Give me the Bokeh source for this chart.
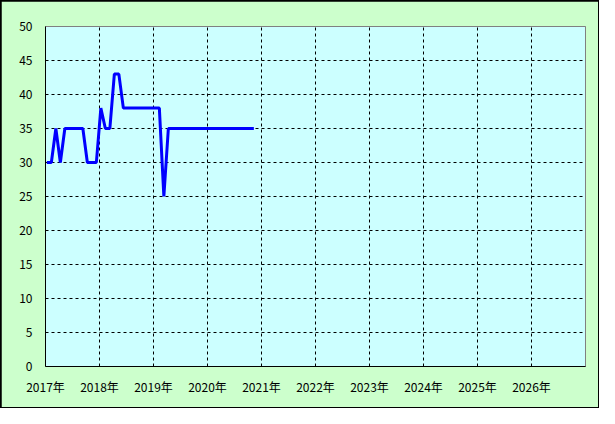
from bokeh.plotting import figure
from bokeh.models import Range1d, FixedTicker
from bokeh.layouts import column
from bokeh.embed import file_html
from bokeh.resources import INLINE

# Monthly values, Jan 2017 .. Nov 2020
start_year = 2017
values = [30, 30, 35, 30, 35, 35, 35, 35, 35, 30, 30, 30,
          38, 35, 35, 43, 43, 38, 38, 38, 38, 38, 38, 38,
          38, 38, 25, 35, 35, 35, 35, 35, 35, 35, 35, 35,
          35, 35, 35, 35, 35, 35, 35, 35, 35, 35, 35]
day_offset = 0.3  # points sit ~10th of each month (fraction of a month)
year_ticks = [2017, 2018, 2019, 2020, 2021, 2022, 2023, 2024, 2025, 2026]
year_labels = {y: f"{y}年" for y in year_ticks}
y_ticks = [0, 5, 10, 15, 20, 25, 30, 35, 40, 45, 50]

xs = [start_year + (i + day_offset) / 12.0 for i in range(len(values))]

FONT = "Noto Sans CJK JP"
W, H = 597, 406

p = figure(width=W, height=H, output_backend="svg", toolbar_location=None,
           x_range=Range1d(2017, 2027), y_range=Range1d(0, 50),
           min_border_left=44, min_border_right=13, min_border_top=25, min_border_bottom=41)

p.border_fill_color = "#ccffcc"
p.background_fill_color = "#ccffff"
p.outline_line_color = "#808080"
p.outline_line_width = 1

p.line(xs, values, line_color="#0000ff", line_width=3)

for ax in (p.xaxis[0], p.yaxis[0]):
    ax.axis_line_color = "black"
    ax.axis_line_width = 1
    ax.major_tick_out = 0
    ax.major_tick_in = 0
    ax.minor_tick_out = 0
    ax.minor_tick_in = 0
    ax.major_label_text_font = FONT
    ax.major_label_text_font_size = "12px"
    ax.major_label_text_color = "black"

p.xaxis.ticker = FixedTicker(ticks=year_ticks)
p.xaxis.major_label_overrides = year_labels
p.xaxis.major_label_standoff = 11
p.yaxis.ticker = FixedTicker(ticks=y_ticks)
p.yaxis.major_label_standoff = 13

p.xgrid.ticker = FixedTicker(ticks=year_ticks[1:])
p.ygrid.ticker = FixedTicker(ticks=y_ticks[1:-1])
for g in (p.xgrid[0], p.ygrid[0]):
    g.grid_line_color = "black"
    g.grid_line_dash = "3 3"
    g.grid_line_width = 1

layout = column(p, styles={"padding": "1px", "background-color": "black"})

open("out.html", "w").write(file_html(layout, INLINE))
